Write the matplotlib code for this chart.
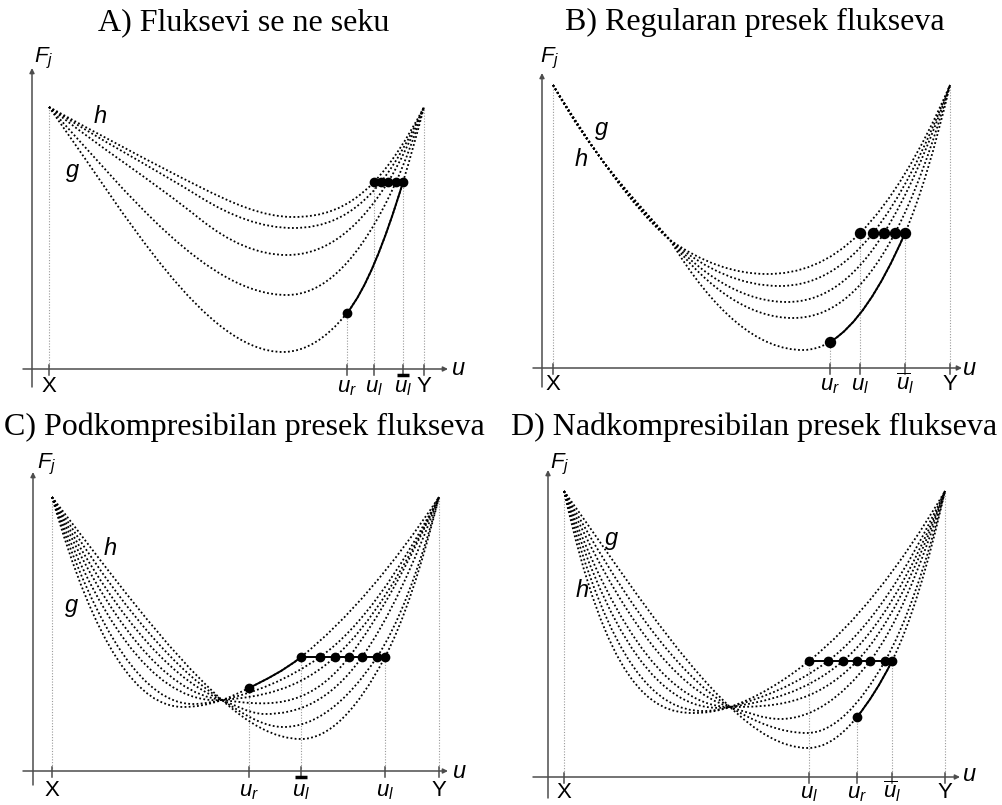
import matplotlib
matplotlib.use("Agg")
import matplotlib.pyplot as plt
from matplotlib.path import Path
from matplotlib.patches import PathPatch

# fontovi: serif za naslove, sans za oznake
plt.rcParams["font.family"] = ["Liberation Sans", "DejaVu Sans"]
plt.rcParams["mathtext.fontset"] = "custom"
plt.rcParams["mathtext.rm"] = "Liberation Sans"
plt.rcParams["mathtext.it"] = "Liberation Sans:italic"
plt.rcParams["mathtext.bf"] = "Liberation Sans:bold"

W, H = 1003, 805

titles = [
    "A) Fluksevi se ne seku",
    "B) Regularan presek flukseva",
    "C) Podkompresibilan presek flukseva",
    "D) Nadkompresibilan presek flukseva",
]

# --- A: cvorovi krivih (u, F, nagib), od h (gore) do g (dole)
a_curves = [
    [(17, 262, -0.55), (168, 182, -0.5), (261, 152, 0), (342, 187, 1.05), (392, 262, 1.9)],
    [(17, 262, -0.65), (168, 172, -0.62), (261, 141, 0), (349, 187, 1.25), (392, 262, 2.2)],
    [(17, 262, -0.8), (168, 150, -0.8), (255, 114, 0), (356, 187, 1.6), (392, 262, 2.55)],
    [(17, 262, -1.1), (255, 74, 0), (364, 187, 2.2), (392, 262, 3.1)],
    [(17, 262, -1.4), (251, 17, 0), (315, 56, 1.25), (371, 187, 3.3), (392, 262, 3.9)],
]
a_dots_u = [342, 349, 356, 364, 371]
a_dots_f = 187
a_ur = (315, 56)
a_ticks = [17, 315, 342, 371, 392]
a_tick_labels = ["X", r"$u_r$", r"$u_l$", r"$u_l$", "Y"]
a_bar_u = 371
a_h = (68, 246)
a_g = (41, 192)

# --- B: zajednicki pocetak do tacke (128, 128), zatim se krive razilaze
b_curves = [
    [(11, 283, -1.6), (128, 128, (-0.85, -0.7)), (225, 94, 0), (318, 135, 1.0), (408, 283, 2.3)],
    [(11, 283, -1.65), (128, 128, (-0.92, -0.85)), (238, 82, 0), (331, 135, 1.25), (408, 283, 2.6)],
    [(11, 283, -1.7), (128, 128, (-1.0, -1.05)), (245, 66, 0), (342, 135, 1.6), (408, 283, 2.9)],
    [(11, 283, -1.75), (128, 128, (-1.08, -1.27)), (251, 50, 0), (353, 135, 1.9), (408, 283, 3.5)],
    [(11, 283, -1.8), (128, 128, (-1.15, -1.65)), (261, 18, 0), (288, 26, 0.6), (363, 135, 2.3), (408, 283, 4.2)],
]
b_dots_u = [318, 331, 342, 353, 363]
b_dots_f = 135
b_ur = (288, 26)
b_ticks = [11, 288, 318, 363, 408]
b_tick_labels = ["X", r"$u_r$", r"$u_l$", r"$\overline{u}_l$", "Y"]
b_bar_u = None
b_h = (39, 202)
b_g = (60, 233)

# --- C: sve krive prolaze kroz (189, 71); g je gornja desno
c_curves = [
    [(19, 274, -3.5), (150, 64, 0), (189, 71, 0.35), (216, 83, 0.5), (268, 114, 0.8), (406, 274, 1.5)],
    [(19, 274, -3.0), (160, 67, 0), (189, 71, 0.22), (287, 114, 0.7), (406, 274, 1.9)],
    [(19, 274, -2.6), (189, 71, 0.08), (302, 114, 0.9), (406, 274, 2.1)],
    [(19, 274, -2.2), (189, 71, -0.12), (316, 114, 1.3), (406, 274, 2.2)],
    [(19, 274, -1.9), (189, 71, -0.4), (232, 57, 0), (329, 114, 1.4), (406, 274, 2.7)],
    [(19, 274, -1.6), (189, 71, -0.65), (250, 44, 0), (344, 114, 1.5), (406, 274, 3.65)],
    [(19, 274, -1.3), (189, 71, -0.9), (268, 32, 0), (352, 114, 1.9), (406, 274, 4.0)],
]
c_dots_u = [268, 287, 302, 316, 329, 344, 352]
c_dots_f = 114
c_ur = (216, 83)
c_ticks = [19, 216, 268, 352, 406]
c_tick_labels = ["X", r"$u_r$", r"$u_l$", r"$u_l$", "Y"]
c_bar_u = 268
c_h = (77, 216)
c_g = (39, 159)

# --- D: sve krive prolaze kroz (182, 70); h je gornja desno
d_curves = [
    [(16, 286, -4.5), (145, 64, 0), (182, 70, 0.35), (261, 116, 0.8), (397, 286, 1.7)],
    [(16, 286, -3.8), (155, 66, 0), (182, 70, 0.28), (280, 116, 0.75), (397, 286, 2.15)],
    [(16, 286, -3.2), (182, 70, 0.15), (295, 116, 0.85), (397, 286, 2.5)],
    [(16, 286, -2.7), (182, 70, 0.0), (309, 116, 1.05), (397, 286, 2.8)],
    [(16, 286, -2.2), (182, 70, -0.3), (232, 58, 0), (322, 116, 1.3), (397, 286, 3.2)],
    [(16, 286, -1.8), (182, 70, -0.6), (259, 44, 0), (337, 116, 1.75), (397, 286, 3.9)],
    [(16, 286, -1.4), (182, 70, -0.95), (260, 29, 0), (309, 60, 1.25), (344, 116, 2.0), (397, 286, 4.4)],
]
d_dots_u = [261, 280, 295, 309, 322, 337, 344]
d_dots_f = 116
d_ur = (309, 60)
d_ticks = [16, 261, 309, 344, 397]
d_tick_labels = ["X", r"$u_l$", r"$u_r$", r"$\overline{u}_l$", "Y"]
d_bar_u = None
d_h = (34, 180)
d_g = (64, 232)

# raspored panela (piksel koordinatnog pocetka i sl.)
layout = [
    dict(origin=(32, 369), title_xy=(244, 30), yax=(-18, 301), xax=(-9, 416), ulab=(426, -6),
         flab=(2, 307), tick_y=-23, ms=6.0, bridge=False),
    dict(origin=(542, 368), title_xy=(755, 30), yax=(-19, 295), xax=(-9, 420), ulab=(427, -7),
         flab=(-2, 306), tick_y=-22, ms=7.2, bridge=False),
    dict(origin=(33, 771), title_xy=(244, 435), yax=(-14, 299), xax=(-10, 415), ulab=(426, -7),
         flab=(4, 303), tick_y=-25, ms=6.0, bridge=True),
    dict(origin=(548, 777), title_xy=(754, 435), yax=(-21, 307), xax=(-15, 412), ulab=(421, -4),
         flab=(2, 309), tick_y=-21, ms=6.0, bridge=True),
]

panels = [
    dict(curves=a_curves, dots_u=a_dots_u, dots_f=a_dots_f, ur=a_ur, ticks=a_ticks,
         labels=a_tick_labels, bar=a_bar_u, h=a_h, g=a_g),
    dict(curves=b_curves, dots_u=b_dots_u, dots_f=b_dots_f, ur=b_ur, ticks=b_ticks,
         labels=b_tick_labels, bar=b_bar_u, h=b_h, g=b_g),
    dict(curves=c_curves, dots_u=c_dots_u, dots_f=c_dots_f, ur=c_ur, ticks=c_ticks,
         labels=c_tick_labels, bar=c_bar_u, h=c_h, g=c_g),
    dict(curves=d_curves, dots_u=d_dots_u, dots_f=d_dots_f, ur=d_ur, ticks=d_ticks,
         labels=d_tick_labels, bar=d_bar_u, h=d_h, g=d_g),
]

AXIS_C = "#4d4d4d"
GUIDE_C = "#9a9a9a"
CURVE_C = "#000000"
FS = 16
XL, YL = (-30, 450), (-40, 345)


def flux_path(knots):
    # kubni Hermite segmenti izmedju cvorova -> Bezier putanja
    verts = [knots[0][:2]]
    codes = [Path.MOVETO]
    for (u0, f0, s0), (u1, f1, s1) in zip(knots[:-1], knots[1:]):
        s0 = s0[1] if isinstance(s0, tuple) else s0
        s1 = s1[0] if isinstance(s1, tuple) else s1
        h = (u1 - u0) / 3.0
        verts += [(u0 + h, f0 + s0 * h), (u1 - h, f1 - s1 * h), (u1, f1)]
        codes += [Path.CURVE4] * 3
    return Path(verts, codes)


def draw_panel(fig, p, lay, title):
    ox, oy = lay["origin"]
    ax = fig.add_axes([(ox + XL[0]) / W, (H - oy + YL[0]) / H,
                       (XL[1] - XL[0]) / W, (YL[1] - YL[0]) / H])
    ax.set_xlim(*XL)
    ax.set_ylim(*YL)
    ax.axis("off")

    arrow = dict(arrowstyle="-|>", color=AXIS_C, lw=1.1, mutation_scale=7, shrinkA=0, shrinkB=0)
    ax.annotate("", xy=(0, lay["yax"][1]), xytext=(0, lay["yax"][0]), arrowprops=arrow)
    ax.annotate("", xy=(lay["xax"][1], 0), xytext=(lay["xax"][0], 0), arrowprops=arrow)

    # pomocne vertikalne linije
    start, end = p["curves"][0][0], p["curves"][0][-1]
    guides = [(start[0], start[1]), (end[0], end[1]), (p["ur"][0], p["ur"][1]),
              (p["dots_u"][0], p["dots_f"]), (p["dots_u"][-1], p["dots_f"])]
    for gu, gf in guides:
        ax.plot([gu, gu], [0, gf], ls=(0, (1, 1.5)), lw=0.8, color=GUIDE_C, zorder=1)

    for t in p["ticks"]:
        ax.plot([t, t], [-6, 4], color=AXIS_C, lw=1.1, zorder=2)
    for t, lab in zip(p["ticks"], p["labels"]):
        ax.text(t, lay["tick_y"], lab, ha="center", va="baseline", fontsize=FS)
    if p["bar"] is not None:
        ax.plot([p["bar"] - 6, p["bar"] + 6], [-6, -6], color="black", lw=2.5,
                solid_capstyle="butt", zorder=3)

    # krive fluksa
    for knots in p["curves"]:
        ax.add_patch(PathPatch(flux_path(knots), fill=False, ec=CURVE_C, lw=1.3,
                               ls=(0, (1.0, 1.3)), zorder=3))
        for k in range(len(knots) - 1):
            if knots[k][0] == p["ur"][0] and knots[k][1] == p["ur"][1]:
                seg = flux_path(knots[k:k + 2])
                ax.add_patch(PathPatch(seg, fill=False, ec="black", lw=1.4, zorder=4))

    if lay["bridge"]:
        ax.plot([p["dots_u"][0], p["dots_u"][-1]], [p["dots_f"]] * 2, color="black", lw=1.4, zorder=4)
    ax.plot(p["dots_u"], [p["dots_f"]] * len(p["dots_u"]), "o", ms=lay["ms"], color="black", zorder=5)
    ax.plot([p["ur"][0]], [p["ur"][1]], "o", ms=lay["ms"], color="black", zorder=5)

    ax.text(*p["h"], "h", style="italic", fontsize=FS + 1, ha="center", va="baseline")
    ax.text(*p["g"], "g", style="italic", fontsize=FS + 1, ha="center", va="baseline")
    ax.text(*lay["flab"], r"$F_j$", fontsize=FS, ha="left", va="baseline")
    ax.text(*lay["ulab"], r"$u$", fontsize=FS + 1, ha="center", va="baseline")

    tx, ty = lay["title_xy"]
    fig.text(tx / W, 1 - ty / H, title, ha="center", va="baseline",
             fontsize=23, family="Liberation Serif")


fig = plt.figure(figsize=(W / 100, H / 100), dpi=100)
for p, lay, title in zip(panels, layout, titles):
    draw_panel(fig, p, lay, title)

fig.savefig("out.png", dpi=100)
